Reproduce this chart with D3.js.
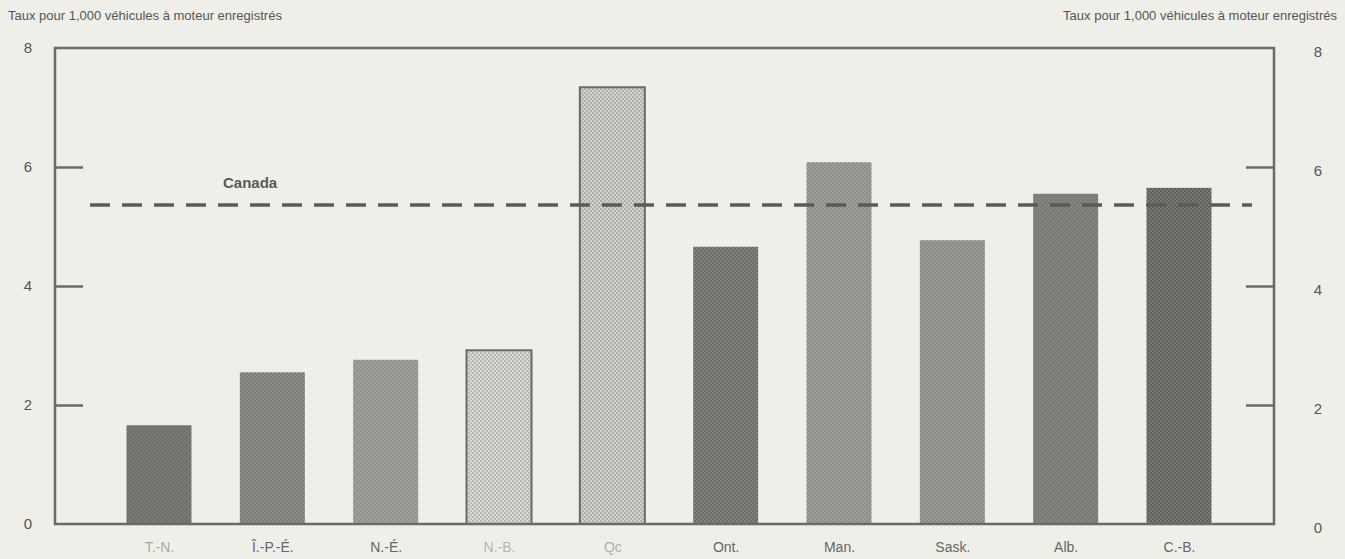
<!DOCTYPE html>
<html><head><meta charset="utf-8">
<script src="https://cdn.jsdelivr.net/npm/d3@7"></script>
<style>
html,body{margin:0;padding:0;background:#efefe9;}
svg{display:block;}
</style></head>
<body>
<svg id="chart" width="1345" height="559"></svg>
<script>
const categories = ["T.-N.", "Î.-P.-É.", "N.-É.", "N.-B.", "Qc", "Ont.", "Man.", "Sask.", "Alb.", "C.-B."];
const values = [1.66, 2.55, 2.76, 2.92, 7.34, 4.66, 6.08, 4.77, 5.55, 5.65];
const canadaRate = 5.36;
const yTicks = [0, 2, 4, 6, 8];
const axisTitle = "Taux pour 1,000 véhicules à moteur enregistrés";
const barFills = ["#6f6f6b", "#7b7b78", "#92928f", "#d9d9d3", "#d2d2cc", "#6b6b68", "#8d8d8a", "#8a8a86", "#7a7a76", "#5f5f5c"];
const dotFills = ["#858581", "#a3a3a0", "#b0b0ad", "#8e8e8a", "#8a8a86", "#9a9a96", "#b2b2ae", "#aeaeaa", "#8e8e8a", "#9a9a97"];
const labelFills = ["#aaaaa5", "#666", "#666", "#b5b5b0", "#b0b0aa", "#666", "#666", "#666", "#666", "#666"];

const svg = d3.select("#chart");
const X0 = 55, X1 = 1274, Y0 = 524, Y1 = 48;

const y = d3.scaleLinear().domain([0, 8]).range([Y0, Y1]);
const x = d3.scalePoint().domain(categories).range([159, 1179]);
const barW = 65;

const defs = svg.append("defs");
categories.forEach((c, i) => {
  const p = defs.append("pattern").attr("id", "pat" + i)
    .attr("patternUnits", "userSpaceOnUse").attr("width", 4).attr("height", 4);
  p.append("rect").attr("width", 4).attr("height", 4).attr("fill", barFills[i]);
  p.append("circle").attr("cx", 1).attr("cy", 1).attr("r", 0.8).attr("fill", dotFills[i]);
  p.append("circle").attr("cx", 3).attr("cy", 3).attr("r", 0.8).attr("fill", dotFills[i]);
});

// Axis titles
svg.append("text").attr("x", 8).attr("y", 20).attr("font-family", "Liberation Sans, Arial, sans-serif")
  .attr("font-size", 13).attr("fill", "#555").text(axisTitle);
svg.append("text").attr("x", 1337).attr("y", 20).attr("text-anchor", "end")
  .attr("font-family", "Liberation Sans, Arial, sans-serif")
  .attr("font-size", 13).attr("fill", "#555").text(axisTitle);

// Bars
svg.append("g").selectAll("rect").data(values).join("rect")
  .attr("x", (d, i) => x(categories[i]) - barW / 2)
  .attr("y", d => y(d))
  .attr("width", barW)
  .attr("height", d => Y0 - y(d))
  .attr("fill", (d, i) => "url(#pat" + i + ")")
  .attr("stroke", (d, i) => (i === 3 || i === 4) ? "#6a6a66" : "none")
  .attr("stroke-width", 2);

// Frame
svg.append("rect").attr("x", X0).attr("y", Y1).attr("width", X1 - X0).attr("height", Y0 - Y1)
  .attr("fill", "none").attr("stroke", "#6a6a66").attr("stroke-width", 2.5);

// Left axis
const leftAxis = d3.axisLeft(y).tickValues(yTicks).tickSize(-28).tickPadding(20).tickFormat(d3.format("d"));
const gl = svg.append("g").attr("transform", `translate(${X0},0)`).call(leftAxis);
gl.select(".domain").remove();
gl.selectAll(".tick line").attr("stroke", "#6a6a66").attr("stroke-width", 2.5)
  .filter(d => d === 0 || d === 8).remove();
gl.selectAll(".tick text").attr("font-family", "Liberation Sans, Arial, sans-serif")
  .attr("font-size", 15).attr("fill", "#555").attr("text-anchor", "middle").attr("x", -27);

// Right axis
const rightAxis = d3.axisRight(y).tickValues(yTicks).tickSize(-28).tickPadding(20).tickFormat(d3.format("d"));
const gr = svg.append("g").attr("transform", `translate(${X1},0)`).call(rightAxis);
gr.select(".domain").remove();
gr.selectAll(".tick line").attr("stroke", "#6a6a66").attr("stroke-width", 2.5)
  .filter(d => d === 0 || d === 8).remove();
gr.selectAll(".tick text").attr("font-family", "Liberation Sans, Arial, sans-serif")
  .attr("font-size", 15).attr("fill", "#555").attr("text-anchor", "middle").attr("x", 44)
  .attr("dy", "0.55em");

// Bottom labels
const bottomAxis = d3.axisBottom(x).tickSize(0).tickPadding(18);
const gb = svg.append("g").attr("transform", `translate(0,${Y0})`).call(bottomAxis);
gb.select(".domain").remove();
gb.selectAll(".tick text").attr("font-family", "Liberation Sans, Arial, sans-serif")
  .attr("font-size", 14).attr("fill", (d, i) => labelFills[i]);

// Canada line
svg.append("line").attr("x1", 90).attr("x2", 1252)
  .attr("y1", y(canadaRate)).attr("y2", y(canadaRate))
  .attr("stroke", "#5a5a56").attr("stroke-width", 3.5).attr("stroke-dasharray", "20 12");
svg.append("text").attr("x", 223).attr("y", y(canadaRate) - 17)
  .attr("font-family", "Liberation Sans, Arial, sans-serif").attr("font-weight", "bold")
  .attr("font-size", 15).attr("fill", "#5a5a56").text("Canada");
</script>
</body></html>
